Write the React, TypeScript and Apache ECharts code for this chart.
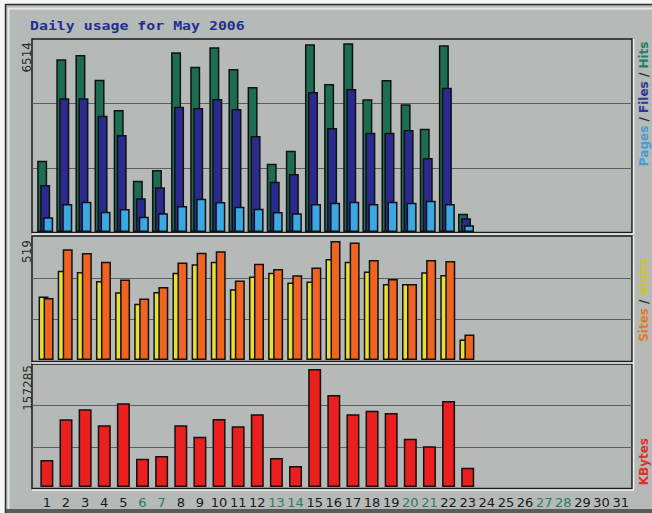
import React, { useEffect, useRef } from 'react';
import * as echarts from 'echarts';

const days = ['1', '2', '3', '4', '5', '6', '7', '8', '9', '10', '11', '12', '13', '14', '15', '16', '17', '18', '19', '20', '21', '22', '23', '24', '25', '26', '27', '28', '29', '30', '31'];
const weekendDays = ['6', '7', '13', '14', '20', '21', '27', '28'];

const hits = [2461, 5962, 6110, 5257, 4211, 1771, 2140, 6203, 5706, 6376, 5627, 5005, 2358, 2806, 6479, 5109, 6514, 4581, 5247, 4408, 3566, 6445, 632];
const files = [1622, 4615, 4615, 4015, 3348, 1163, 1543, 4325, 4280, 4591, 4246, 3314, 1736, 2002, 4833, 3590, 4936, 3428, 3428, 3521, 2554, 4981, 473];
const pages = [507, 967, 1046, 701, 794, 528, 646, 898, 1150, 1036, 873, 804, 690, 646, 967, 1011, 1046, 967, 1046, 1011, 1080, 967, 231];
const visits = [277, 389, 384, 345, 296, 245, 297, 381, 418, 429, 309, 364, 381, 338, 342, 440, 429, 386, 331, 332, 383, 371, 89];
const sites = [270, 483, 467, 428, 351, 268, 318, 425, 468, 474, 347, 420, 397, 370, 403, 519, 513, 436, 353, 332, 436, 432, 111];
const kbytes = [35990, 90240, 103570, 82240, 111560, 37720, 41320, 82240, 67050, 90640, 80910, 96900, 38650, 27990, 157285, 122630, 96900, 101700, 98640, 64380, 54250, 114630, 25730];

const maxLabels = ['6514', '519', '157285'];
const title = 'Daily usage for May 2006';

const C = {
  bg: '#b5b9b8',
  hits: '#1d6e50',
  files: '#2b2b8f',
  pages: '#3ba7e3',
  visits: '#e6e030',
  sites: '#ee6420',
  kbytes: '#ec1f1f',
  grid: '#5a5e5e',
  frame: '#1a1a1a',
};

export default function App() {
  const ref = useRef<HTMLDivElement>(null);
  useEffect(() => {
    document.body.style.margin = '0';
    const chart = echarts.init(ref.current!, null, { renderer: 'svg' });

    const frames = [
      { top: 39, bottom: 232.5 },
      { top: 236, bottom: 361.5 },
      { top: 364, bottom: 488.5 },
    ];
    const barGrids = [
      { left: 35.6, top: 40, height: 192, max: 6514 * 192 / 188.7 },
      { left: 36.5, top: 237, height: 123, max: 519 * 123 / 119 },
      { left: 37.3, top: 364, height: 123, max: 157285 * 123 / 118 },
    ];

    const grids: any[] = [];
    const xAxes: any[] = [];
    const yAxes: any[] = [];
    frames.forEach((f, i) => {
      grids.push({ left: 32, width: 600, top: f.top, height: f.bottom - f.top, show: true, borderColor: C.frame, borderWidth: 1.5, backgroundColor: 'transparent' });
      xAxes.push({ type: 'value', gridIndex: i, show: false, min: 0, max: 1 });
      yAxes.push({
        type: 'value', gridIndex: i, min: 0, max: 3, interval: 1,
        axisLine: { show: false }, axisTick: { show: false }, axisLabel: { show: false },
        splitLine: { show: true, showMinLine: false, showMaxLine: false, lineStyle: { color: C.grid, width: 1 } },
      });
    });
    barGrids.forEach((g, i) => {
      const gi = i + 3;
      grids.push({ left: g.left, width: 593, top: g.top, height: g.height, show: false });
      xAxes.push({
        type: 'category', gridIndex: gi, data: days, boundaryGap: true,
        axisLine: { show: false }, axisTick: { show: false },
        axisLabel: i === 2 ? {
          show: true, interval: 0, margin: 9, fontFamily: 'DejaVu Sans', fontSize: 13,
          color: (v: string) => (weekendDays.includes(v) ? '#2e7c5e' : '#1a1a1a'),
        } : { show: false },
      });
      yAxes.push({
        type: 'value', gridIndex: gi, min: 0, max: g.max,
        axisLine: { show: false }, axisTick: { show: false }, axisLabel: { show: false }, splitLine: { show: false },
      });
    });

    const barStyle = (color: string) => ({ color, borderColor: '#111111', borderWidth: 1.5 });

    const series: any[] = [
      { name: 'Hits', type: 'bar', xAxisIndex: 3, yAxisIndex: 3, data: hits, barWidth: 10, barGap: '-70%', itemStyle: barStyle(C.hits) },
      { name: 'Files', type: 'bar', xAxisIndex: 3, yAxisIndex: 3, data: files, barWidth: 10, barGap: '-70%', itemStyle: barStyle(C.files) },
      { name: 'Pages', type: 'bar', xAxisIndex: 3, yAxisIndex: 3, data: pages, barWidth: 10, barGap: '-70%', itemStyle: barStyle(C.pages) },
      { name: 'Visits', type: 'bar', xAxisIndex: 4, yAxisIndex: 4, data: visits, barWidth: 10, barGap: '-50%', itemStyle: barStyle(C.visits) },
      { name: 'Sites', type: 'bar', xAxisIndex: 4, yAxisIndex: 4, data: sites, barWidth: 10, barGap: '-50%', itemStyle: barStyle(C.sites) },
      { name: 'KBytes', type: 'bar', xAxisIndex: 5, yAxisIndex: 5, data: kbytes, barWidth: 13, itemStyle: barStyle(C.kbytes) },
    ];

    const highlight = (f: { top: number; bottom: number }) => ({
      type: 'polyline', z: 5,
      shape: { points: [[633.6, f.top], [633.6, f.bottom + 1.6], [32, f.bottom + 1.6]] },
      style: { stroke: '#eef0f0', lineWidth: 1.5, fill: null },
    });

    const maxLabelPos = [
      { x: 27, y: 42 },
      { x: 27, y: 240 },
      { x: 27.5, y: 365 },
    ];

    const graphic: any[] = [
      { type: 'rect', z: 1, shape: { x: 0, y: 0, width: 652, height: 4 }, style: { fill: '#f6f6f6' } },
      { type: 'rect', z: 1, shape: { x: 0, y: 0, width: 5, height: 513 }, style: { fill: '#f6f6f6' } },
      { type: 'polyline', z: 2, shape: { points: [[5.5, 513], [5.5, 4.5], [652, 4.5]] }, style: { stroke: '#2e2e2e', lineWidth: 1.5, fill: null } },
      { type: 'polyline', z: 2, shape: { points: [[8.5, 509], [8.5, 8.5], [652, 8.5]] }, style: { stroke: '#e4e8e8', lineWidth: 2, fill: null } },
      { type: 'rect', z: 2, shape: { x: 6, y: 509, width: 646, height: 4 }, style: { fill: '#5a5c5c' } },
      ...frames.map(highlight),
      {
        type: 'text', z: 10, x: 30, y: 26, scaleX: 1.24,
        style: { text: title, fill: '#22308c', fontFamily: 'DejaVu Sans Mono', fontWeight: 'bold', fontSize: 12, align: 'left', verticalAlign: 'middle' },
      },
      ...maxLabels.map((t, i) => ({
        type: 'text', z: 10, x: maxLabelPos[i].x, y: maxLabelPos[i].y, rotation: Math.PI / 2,
        style: { text: t, fill: '#2a2a2a', fontFamily: 'DejaVu Sans', fontSize: 12, align: 'right', verticalAlign: 'middle' },
      })),
      {
        type: 'text', z: 10, x: 643.5, y: 41.5, rotation: Math.PI / 2,
        style: {
          text: '{p|Pages} / {f|Files} / {h|Hits}', fill: '#333333', fontFamily: 'DejaVu Sans', fontWeight: 'bold', fontSize: 12,
          align: 'right', verticalAlign: 'middle',
          rich: {
            p: { fill: '#3f9fd8', fontFamily: 'DejaVu Sans', fontWeight: 'bold', fontSize: 12 },
            f: { fill: '#2f3590', fontFamily: 'DejaVu Sans', fontWeight: 'bold', fontSize: 12 },
            h: { fill: '#23805f', fontFamily: 'DejaVu Sans', fontWeight: 'bold', fontSize: 12 },
          },
        },
      },
      {
        type: 'text', z: 10, x: 644, y: 258, rotation: Math.PI / 2,
        style: {
          text: '{s|Sites} / {v|Visits}', fill: '#333333', fontFamily: 'DejaVu Sans', fontWeight: 'bold', fontSize: 12,
          align: 'right', verticalAlign: 'middle',
          rich: {
            s: { fill: '#e07b2a', fontFamily: 'DejaVu Sans', fontWeight: 'bold', fontSize: 12 },
            v: { fill: '#d0c42a', fontFamily: 'DejaVu Sans', fontWeight: 'bold', fontSize: 12 },
          },
        },
      },
      {
        type: 'text', z: 10, x: 644, y: 438, rotation: Math.PI / 2,
        style: { text: 'KBytes', fill: '#e0302a', fontFamily: 'DejaVu Sans', fontWeight: 'bold', fontSize: 12, align: 'right', verticalAlign: 'middle' },
      },
    ];

    chart.setOption({
      animation: false,
      backgroundColor: C.bg,
      grid: grids,
      xAxis: xAxes,
      yAxis: yAxes,
      series,
      graphic,
    });
    return () => chart.dispose();
  }, []);
  return <div ref={ref} style={{ width: 652, height: 513 }} />;
}
